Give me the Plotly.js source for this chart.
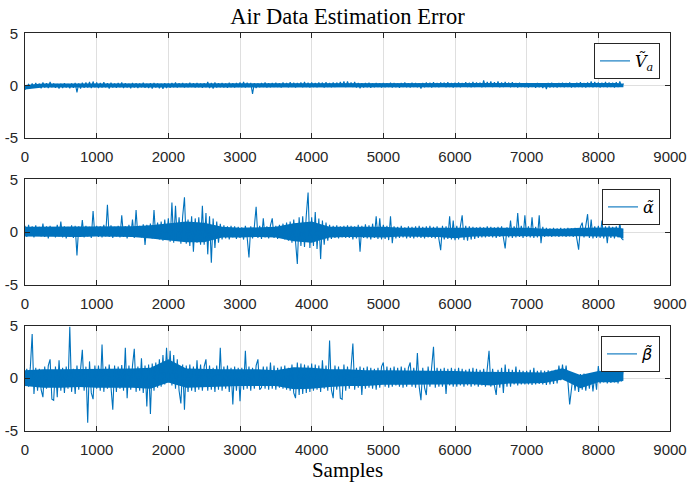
<!DOCTYPE html>
<html>
<head>
<meta charset="utf-8">
<script src="https://cdn.plot.ly/plotly-3.0.1.min.js"></script>
<style>html,body{margin:0;padding:0;background:#fff;}#chart{width:687px;height:483px;}</style>
</head>
<body>
<div id="chart"></div>
<script>
// sample spacing of the signal values below (samples)
const STEP = 25;

// Air-speed estimation error  \tilde V_a
const vaErr = [
-0.40,-0.15,0.10,-0.25,0.20,-0.20,0.25,-0.15,0.18,-0.28,0.30,-0.20,0.22,-0.25,0.35,-0.18,0.20,-0.22,0.15,-0.30,
0.18,-0.25,0.22,-0.20,0.15,-0.28,0.20,-0.22,0.25,-0.65,0.20,-0.30,0.28,-0.22,0.30,-0.20,0.35,-0.25,0.38,-0.18,
0.30,-0.25,0.25,-0.20,0.32,-0.18,0.22,-0.30,0.28,-0.20,0.20,-0.22,0.25,-0.18,0.30,-0.25,0.22,-0.20,0.18,-0.28,
0.25,-0.20,0.22,-0.25,0.20,-0.18,0.28,-0.22,0.18,-0.25,0.22,-0.30,0.25,-0.20,0.20,-0.28,0.18,-0.32,0.22,-0.25,
0.20,-0.22,0.25,-0.18,0.30,-0.20,0.22,-0.15,0.25,-0.20,0.20,-0.18,0.28,-0.15,0.22,-0.20,0.25,-0.18,0.20,-0.22,
0.22,-0.18,0.35,-0.25,0.25,-0.30,0.30,-0.20,0.22,-0.18,0.25,-0.20,0.20,-0.22,0.28,-0.18,0.22,-0.20,0.25,-0.15,
0.30,-0.18,0.35,-0.20,0.28,-0.15,0.25,-0.80,0.22,-0.25,0.20,-0.18,0.25,-0.15,0.30,-0.20,0.22,-0.18,0.25,-0.15,
0.28,-0.15,0.22,-0.20,0.30,-0.12,0.25,-0.18,0.32,-0.15,0.28,-0.20,0.25,-0.12,0.30,-0.18,0.35,-0.15,0.28,-0.20,
0.30,-0.15,0.25,-0.18,0.30,-0.12,0.28,-0.20,0.32,-0.15,0.25,-0.18,0.30,-0.15,0.28,-0.12,0.35,-0.10,0.40,-0.15,
0.38,-0.12,0.30,-0.15,0.35,-0.20,0.25,-0.28,0.22,-0.20,0.25,-0.18,0.28,-0.22,0.20,-0.18,0.25,-0.15,0.22,-0.20,
0.25,-0.18,0.22,-0.15,0.28,-0.20,0.25,-0.18,0.20,-0.22,0.25,-0.15,0.30,-0.18,0.22,-0.20,0.28,-0.15,0.25,-0.18,
0.22,-0.30,0.25,-0.18,0.30,-0.15,0.28,-0.20,0.32,-0.15,0.25,-0.18,0.30,-0.12,0.28,-0.18,0.32,-0.15,0.25,-0.20,
0.28,-0.15,0.30,-0.18,0.25,-0.12,0.32,-0.15,0.28,-0.18,0.35,-0.15,0.30,-0.12,0.28,-0.18,0.50,-0.15,0.35,-0.12,
0.38,-0.15,0.32,-0.12,0.40,-0.18,0.30,-0.15,0.35,-0.10,0.28,-0.18,0.32,-0.15,0.25,-0.20,0.28,-0.15,0.22,-0.18,
0.25,-0.20,0.22,-0.15,0.20,-0.22,0.25,-0.18,0.22,-0.25,0.20,-0.35,0.25,-0.20,0.28,-0.18,0.22,-0.20,0.25,-0.15,
0.28,-0.18,0.25,-0.15,0.30,-0.20,0.22,-0.18,0.28,-0.15,0.32,-0.18,0.25,-0.20,0.30,-0.15,0.40,-0.18,0.35,-0.15,
0.30,-0.20,0.28,-0.15,0.35,-0.18,0.30,-0.15,0.28,-0.20,0.32,-0.15,0.38,-0.12,0.20
];

// Angle-of-attack estimation error  \tilde alpha
const alphaErr = [
0.60,-0.45,0.70,-0.30,0.55,-0.50,0.65,-0.35,0.50,-0.40,0.80,-0.45,0.55,-0.60,0.60,-0.35,0.45,-0.50,0.70,-0.40,
1.00,-0.50,0.55,-0.60,0.50,-0.45,0.65,-0.55,0.60,-2.20,0.55,-0.45,1.15,-0.50,0.60,-0.40,0.50,-0.55,2.00,-0.35,
0.60,-0.45,0.55,-0.50,0.70,-0.40,2.60,-0.45,0.65,-0.55,0.50,-0.40,0.60,-0.50,1.60,-0.45,0.55,-0.60,0.70,-0.40,
1.20,-0.55,2.10,-0.45,0.60,-0.50,0.75,-1.20,0.70,-0.55,0.80,-0.60,2.10,-0.50,0.90,-0.70,1.00,-0.80,1.20,-0.65,
1.30,-0.90,2.80,-1.00,2.50,-0.80,1.40,-1.10,1.50,3.30,-1.10,1.20,-1.30,1.50,-1.85,1.30,-1.00,1.40,-1.20,2.50,
-1.20,1.80,-2.10,1.50,-2.90,1.30,-1.50,1.00,-1.00,0.80,-0.70,0.65,-0.60,0.55,-0.70,0.60,-0.50,0.55,-0.65,0.50,
-0.55,0.45,-0.70,0.60,-0.50,-2.40,0.55,-0.60,0.50,2.40,-0.55,0.60,-0.65,1.30,-0.50,0.55,-0.60,0.65,1.30,-0.55,
0.60,-0.65,0.70,-0.55,0.80,-0.70,0.90,-0.80,1.00,-1.00,1.20,-1.20,-3.00,1.40,-1.30,1.50,-1.40,1.60,3.75,-1.50,
1.40,-1.30,1.90,-1.60,1.30,-2.55,1.10,-1.20,0.90,-0.80,0.70,-0.65,0.60,-0.55,0.65,-0.60,0.55,-0.50,0.60,-0.55,
0.65,-0.55,0.60,-0.70,0.55,-0.60,0.70,-1.85,0.60,-0.55,0.75,-0.60,0.65,-0.70,0.80,-0.55,1.50,-0.65,1.30,-0.70,
0.70,-0.65,0.60,-0.75,1.50,-1.05,0.55,-0.60,0.50,-0.55,0.60,-0.50,0.45,-0.60,0.55,-0.55,0.50,-0.60,0.55,-0.50,
0.60,-0.55,0.50,-0.60,0.55,-0.50,0.60,-0.55,0.50,-0.60,0.55,-0.65,-1.70,0.60,-0.70,0.55,-0.65,1.50,-0.70,1.10,
-0.75,0.60,-0.70,0.55,1.60,-0.75,0.60,-0.80,0.55,-0.70,0.50,-0.65,0.45,-0.55,0.50,-0.50,0.45,-0.50,0.55,-0.45,
0.50,-0.50,0.45,-0.55,0.50,-0.45,0.55,-0.50,-1.55,0.45,-0.50,1.10,-0.55,0.55,-0.50,1.80,-0.45,0.60,-0.55,1.60,
-0.45,0.55,-0.50,1.40,-0.55,0.50,-0.50,1.60,-1.05,0.50,-0.45,0.40,-0.40,0.35,-0.45,0.40,-0.40,0.35,-0.45,0.40,
-0.40,0.35,-0.45,0.40,-0.40,0.35,-0.45,0.40,-0.50,-1.65,0.50,0.90,-0.50,0.55,1.70,-0.55,1.20,-0.60,0.55,-0.55,
0.60,-0.55,1.10,-0.60,0.55,-1.05,0.60,-0.55,0.50,-0.60,0.55,-0.50,0.90,-0.60,-0.75
];

// Sideslip estimation error  \tilde beta
const betaErr = [
-0.40,0.90,-0.80,1.10,4.20,-1.50,1.00,-1.20,0.90,-1.10,-1.80,1.10,-1.00,1.20,1.80,-2.00,-2.10,1.10,-1.80,1.70,
-1.20,1.00,-1.40,1.10,-1.00,4.90,-1.30,0.90,-1.50,1.20,-1.10,1.00,2.70,-1.20,1.10,-4.25,1.60,-1.40,-2.00,1.20,
-1.00,1.20,-1.20,3.20,-1.30,1.10,-1.00,1.30,-1.20,-3.00,1.20,-1.30,1.10,-1.00,1.25,-1.20,2.90,-1.90,1.20,-1.10,
1.20,2.80,-1.30,1.10,-1.20,1.90,-1.40,1.20,-2.70,1.30,-3.40,1.40,-1.20,1.50,-0.90,1.80,-0.80,2.20,-0.60,2.90,
-0.40,2.60,-0.70,2.20,-1.00,1.80,-1.20,-2.40,1.30,-3.00,1.20,-1.30,1.30,-1.20,1.10,-1.30,1.70,-1.10,1.30,-1.20,
1.10,1.80,-1.20,1.20,-1.10,1.00,-1.30,1.20,-1.10,2.90,-1.20,1.10,-1.00,1.20,-1.30,1.00,-2.50,1.10,-1.20,1.00,
-2.20,1.00,-1.10,2.60,-1.00,1.10,-1.20,1.00,-1.00,1.20,1.80,-1.10,-0.90,1.10,-1.00,1.10,-1.10,1.50,-1.00,1.20,
-1.10,1.00,-0.90,1.10,-1.00,1.20,-1.10,1.00,-1.20,1.30,-1.40,-1.90,1.50,-1.60,1.40,-1.50,1.30,-1.40,1.20,-1.30,
1.40,-1.20,1.30,-1.10,1.20,-1.30,1.70,-1.00,1.20,-1.20,3.60,-1.10,-1.90,1.20,-1.10,1.10,-1.90,-2.00,1.30,-1.20,
1.10,-1.00,1.00,3.30,-1.10,1.00,-0.90,1.10,-1.60,1.00,-1.00,1.10,-0.90,1.00,-1.00,0.90,-1.10,1.00,-0.90,1.10,
1.50,-0.80,1.10,-0.90,1.00,-0.80,1.10,-0.70,1.00,-0.80,1.10,-0.90,1.00,-0.80,1.00,1.50,-0.80,1.00,-0.90,2.40,
-0.80,-2.10,1.00,-0.90,-1.60,1.10,-0.80,1.20,3.00,-0.90,1.00,-0.80,0.90,-0.80,1.00,-1.50,0.90,-0.70,1.00,-0.80,
0.90,-0.80,1.00,-0.70,0.90,-0.80,0.80,-0.70,0.90,-0.80,1.00,-0.70,0.90,-0.80,0.80,-0.70,0.90,-0.80,0.90,2.60,
-0.80,0.90,-0.70,-1.60,0.80,-0.90,1.00,-1.40,1.30,-0.80,0.90,-0.80,0.80,-0.60,1.10,-0.70,0.80,-0.60,0.70,-0.60,
0.70,-0.60,0.80,-0.65,1.00,-0.60,0.70,-0.55,0.75,-0.60,0.70,-0.65,0.75,-0.60,0.70,-0.55,0.80,-0.50,1.20,-0.20,
1.30,-0.20,1.20,-0.30,-2.50,-1.00,0.40,-1.20,0.30,-1.30,0.40,-1.10,0.45,-1.20,0.35,-1.00,0.40,-1.25,0.30,-1.10,
1.15,-0.50,0.90,-0.40,0.80,-0.50,0.85,-0.45,0.90,-0.40,0.80,-0.50,0.90,-0.30,1.00
];

// extents of the densely filled core of each signal, read at these samples
const coreSamples = [0,250,500,750,1000,1250,1500,1750,2000,2250,2500,2750,3000,3250,3500,3750,4000,4250,
  4500,4750,5000,5250,5500,5750,6000,6250,6500,6750,7000,7250,7500,7750,8000,8250,8350];
const vaCoreHi = [0.05,0.20,0.20,0.20,0.22,0.22,0.20,0.20,0.20,0.20,0.20,0.20,0.22,0.22,0.22,0.22,0.24,0.24,
  0.22,0.20,0.20,0.22,0.22,0.24,0.24,0.24,0.26,0.22,0.20,0.20,0.22,0.24,0.24,0.24,0.16];
const vaCoreLo = [-0.38,-0.20,-0.20,-0.20,-0.19,-0.19,-0.19,-0.19,-0.18,-0.18,-0.18,-0.18,-0.16,-0.16,-0.16,-0.15,-0.15,-0.15,
  -0.16,-0.16,-0.16,-0.16,-0.16,-0.15,-0.15,-0.15,-0.15,-0.16,-0.18,-0.16,-0.16,-0.16,-0.16,-0.16,-0.16];
const alphaCoreHi = [0.50,0.50,0.50,0.50,0.50,0.50,0.55,0.65,0.85,1.00,0.90,0.50,0.42,0.45,0.50,0.85,1.00,0.50,
  0.50,0.55,0.50,0.42,0.42,0.45,0.45,0.42,0.38,0.42,0.42,0.32,0.32,0.42,0.45,0.45,0.35];
const alphaCoreLo = [-0.42,-0.45,-0.45,-0.45,-0.42,-0.45,-0.45,-0.60,-0.80,-0.95,-0.95,-0.50,-0.50,-0.45,-0.50,-0.85,-1.00,-0.50,
  -0.45,-0.50,-0.50,-0.42,-0.42,-0.45,-0.58,-0.42,-0.38,-0.38,-0.38,-0.33,-0.33,-0.38,-0.42,-0.42,-0.60];
const betaCoreHi = [0.75,0.85,0.85,0.85,0.92,0.92,0.92,1.00,1.80,0.92,0.85,0.85,0.85,0.85,0.75,1.05,1.00,0.85,
  0.85,0.75,0.75,0.75,0.75,0.68,0.68,0.62,0.62,0.55,0.55,0.55,0.95,0.30,0.68,0.68,0.75];
const betaCoreLo = [-0.75,-0.92,-0.92,-0.85,-0.92,-0.92,-0.92,-1.00,-0.40,-0.92,-0.85,-0.85,-0.75,-0.75,-0.75,-1.05,-1.00,-0.85,
  -0.75,-0.75,-0.62,-0.62,-0.62,-0.62,-0.58,-0.58,-0.70,-0.50,-0.50,-0.45,-0.12,-0.95,-0.38,-0.38,-0.25];

const xTickVals = [0,1000,2000,3000,4000,5000,6000,7000,8000,9000];
const yTickVals = [-5,0,5];
const yTickText = ['-5','0','5'];
const seriesNames = ['<i>Ṽ</i><sub><i>a</i></sub>', '<i>α̃</i>', 'β̃'];
const chartTitle = 'Air Data Estimation Error';
const xLabel = 'Samples';

const LINE = '#0072BD';
const AX = 'rgb(38,38,38)';
const GRID = 'rgb(223,223,223)';
const W = 687, H = 483;
const tickFont = {family: 'Liberation Sans, Arial, sans-serif', size: 15, color: AX};
const serif = 'Liberation Serif, Times New Roman, serif';
const mathSerif = 'DejaVu Serif, serif';

const series = [vaErr, alphaErr, betaErr];
const coreHi = [vaCoreHi, alphaCoreHi, betaCoreHi];
const coreLo = [vaCoreLo, alphaCoreLo, betaCoreLo];
const traces = [];
series.forEach((ys, k) => {
  const xa = k === 0 ? 'x' : 'x' + (k + 1);
  const ya = k === 0 ? 'y' : 'y' + (k + 1);
  const lg = k === 0 ? 'legend' : 'legend' + (k + 1);
  traces.push({type: 'scatter', mode: 'lines', x: coreSamples, y: coreLo[k], xaxis: xa, yaxis: ya,
    line: {color: LINE, width: 0}, showlegend: false, hoverinfo: 'skip'});
  traces.push({type: 'scatter', mode: 'lines', x: coreSamples, y: coreHi[k], xaxis: xa, yaxis: ya,
    fill: 'tonexty', fillcolor: LINE, line: {color: LINE, width: 0}, showlegend: false, hoverinfo: 'skip'});
  traces.push({type: 'scatter', mode: 'lines', x: ys.map((_, i) => i * STEP), y: ys,
    name: seriesNames[k], line: {color: LINE, width: 1.1}, xaxis: xa, yaxis: ya, legend: lg, hoverinfo: 'skip'});
});

// vertical pixel extents of the three panels
const panelPx = [[33.3, 137.7], [179.3, 285], [325.7, 430.7]];
const legendTopPx = [43, 189, 336];

function xAxis(k) {
  const a = {
    range: [0, 9000], tickvals: xTickVals, ticks: 'inside', ticklen: 5, tickcolor: AX, tickwidth: 1,
    showline: true, linecolor: AX, linewidth: 1, mirror: 'ticks',
    showgrid: true, gridcolor: GRID, gridwidth: 1, zeroline: false,
    tickfont: tickFont, anchor: k === 0 ? 'y' : 'y' + (k + 1), domain: [0, 1],
    ticklabelstandoff: 5, automargin: false, fixedrange: true
  };
  if (k === 2) a.title = {text: xLabel, font: {family: serif, size: 21, color: '#000'}, standoff: 4};
  return a;
}
function yAxis(k) {
  const [t, b] = panelPx[k];
  return {
    range: [-5, 5], tickvals: yTickVals, ticktext: yTickText, ticks: 'inside', ticklen: 5, tickcolor: AX, tickwidth: 1,
    showline: true, linecolor: AX, linewidth: 1, mirror: 'ticks',
    showgrid: true, gridcolor: GRID, gridwidth: 1, zeroline: false,
    tickfont: tickFont, anchor: k === 0 ? 'x' : 'x' + (k + 1),
    domain: [1 - b / H, 1 - t / H], ticklabelstandoff: 3, automargin: false, fixedrange: true
  };
}
function legend(k) {
  return {
    x: (660 - 25.3) / (670 - 25.3), xanchor: 'right', xref: 'paper',
    y: 1 - legendTopPx[k] / H, yanchor: 'top', yref: 'paper',
    bgcolor: '#fff', bordercolor: AX, borderwidth: 1,
    font: {family: k === 2 ? 'DejaVu Sans, sans-serif' : mathSerif, size: 16, color: '#000', style: k === 2 ? 'italic' : 'normal'},
    itemwidth: 30
  };
}

const layout = {
  width: W, height: H, paper_bgcolor: '#fff', plot_bgcolor: '#fff',
  margin: {l: 25.3, r: 17, t: 0, b: 0},
  showlegend: true,
  title: {text: chartTitle, font: {family: serif, size: 22.5, color: '#000'},
          x: 0.5, xref: 'paper', xanchor: 'center', y: 1 - 16 / H, yref: 'container', yanchor: 'middle'},
  xaxis: xAxis(0), xaxis2: xAxis(1), xaxis3: xAxis(2),
  yaxis: yAxis(0), yaxis2: yAxis(1), yaxis3: yAxis(2),
  legend: legend(0), legend2: legend(1), legend3: legend(2)
};

Plotly.newPlot('chart', traces, layout, {displayModeBar: false, staticPlot: true});
</script>
</body>
</html>
